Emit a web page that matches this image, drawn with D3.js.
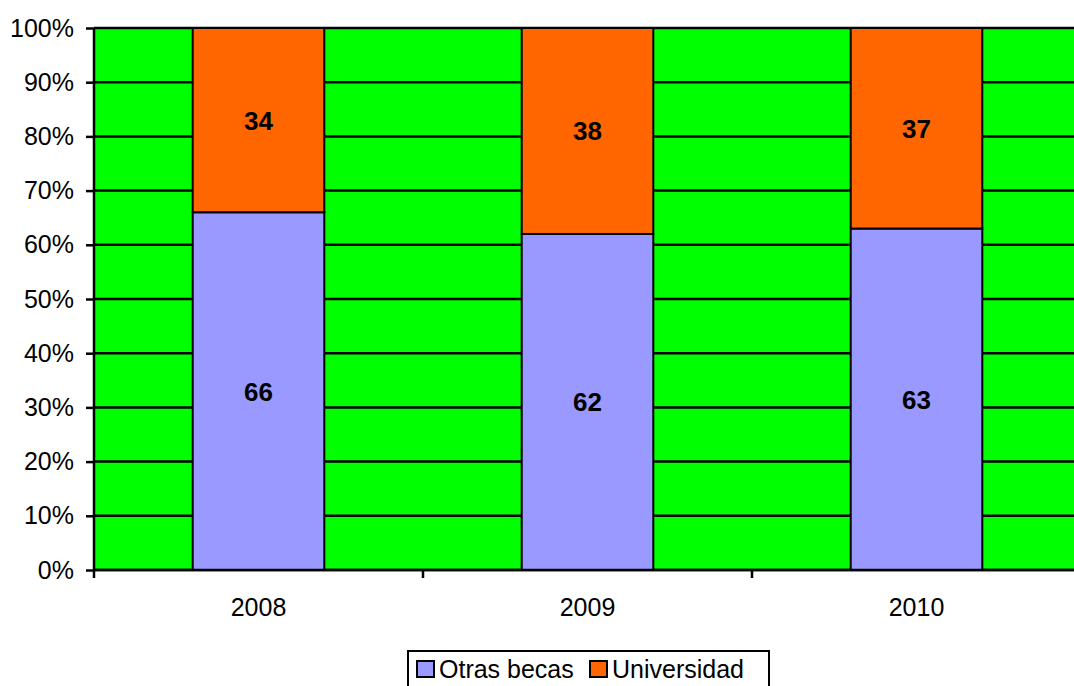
<!DOCTYPE html>
<meta charset="utf-8">
<style>
body { margin: 0; background: #fff; }
text { font-family: "Liberation Sans", Arial, sans-serif; }
</style>
<svg width="1074" height="686"></svg>
<script src="https://d3js.org/d3.v7.min.js"></script>
<script>

var years = ["2008", "2009", "2010"];
var otrasBecas = [66, 62, 63];
var universidad = [34, 38, 37];
var seriesNames = ["Otras becas", "Universidad"];
var seriesColors = ["#9999ff", "#ff6600"];
var yTicks = [0, 10, 20, 30, 40, 50, 60, 70, 80, 90, 100];

var svg = d3.select("svg");
var margin = {left: 94, top: 28, right: -7, bottom: 116};
var width = 1074 - margin.left - margin.right;
var height = 686 - margin.top - margin.bottom;

var g = svg.append("g").attr("transform", "translate(" + margin.left + "," + margin.top + ")");

var x = d3.scaleBand().domain(years).range([0, width]).paddingInner(0.6).paddingOuter(0.3);
var xCat = d3.scaleBand().domain(years).range([0, width]);
var y = d3.scaleLinear().domain([0, 100]).range([height, 0]);

// background
g.append("rect")
    .attr("width", width)
    .attr("height", height)
    .attr("fill", "#00ff00");

// gridlines
g.selectAll("line.grid")
  .data(yTicks)
  .enter().append("line")
    .attr("class", "grid")
    .attr("x1", 0)
    .attr("x2", width)
    .attr("y1", function(d) { return y(d); })
    .attr("y2", function(d) { return y(d); })
    .attr("stroke", "#000")
    .attr("stroke-width", 2.5);

var table = years.map(function(yr, i) {
  var total = otrasBecas[i] + universidad[i];
  return {year: yr, vals: [otrasBecas[i], universidad[i]], total: total};
});

var stacks = [];
table.forEach(function(d) {
  var acc = 0;
  d.vals.forEach(function(v, j) {
    var p0 = acc / d.total * 100;
    acc += v;
    var p1 = acc / d.total * 100;
    stacks.push({year: d.year, value: v, s: j, p0: p0, p1: p1});
  });
});

g.selectAll("rect.bar")
  .data(stacks)
  .enter().append("rect")
    .attr("class", "bar")
    .attr("x", function(d) { return x(d.year); })
    .attr("width", x.bandwidth())
    .attr("y", function(d) { return y(d.p1); })
    .attr("height", function(d) { return y(d.p0) - y(d.p1); })
    .attr("fill", function(d) { return seriesColors[d.s]; })
    .attr("stroke", "#000")
    .attr("stroke-width", 2);

g.selectAll("text.val")
  .data(stacks)
  .enter().append("text")
    .attr("class", "val")
    .attr("x", function(d) { return x(d.year) + x.bandwidth() / 2; })
    .attr("y", function(d) { return y((d.p0 + d.p1) / 2); })
    .attr("dy", "0.36em")
    .attr("text-anchor", "middle")
    .style("font-size", "26px")
    .style("font-weight", "bold")
    .text(function(d) { return d.value; });

// y axis
var yAxis = g.append("g")
    .call(d3.axisLeft(y).tickValues(yTicks).tickSize(8).tickPadding(12)
      .tickFormat(function(d) { return d + "%"; }));
yAxis.select(".domain").attr("stroke-width", 2.5).attr("d", "M0," + height + "V0");
yAxis.selectAll(".tick line").attr("stroke-width", 2.5);
yAxis.selectAll("text").style("font-size", "25px").attr("fill", "#000");

// x axis
var xAxis = g.append("g")
    .attr("transform", "translate(0," + height + ")")
    .call(d3.axisBottom(xCat).tickSize(0).tickPadding(28));
xAxis.select(".domain").remove();
xAxis.selectAll("text").style("font-size", "25px").attr("fill", "#000");
g.append("line")
    .attr("x1", 0).attr("x2", width)
    .attr("y1", height).attr("y2", height)
    .attr("stroke", "#000").attr("stroke-width", 2.5);
g.selectAll("line.xtick")
  .data(years)
  .enter().append("line")
    .attr("class", "xtick")
    .attr("x1", function(d) { return xCat(d); })
    .attr("x2", function(d) { return xCat(d); })
    .attr("y1", height)
    .attr("y2", height + 8)
    .attr("stroke", "#000")
    .attr("stroke-width", 2.5);

// legend
var legend = svg.append("g").attr("transform", "translate(408,651)");
legend.append("rect")
    .attr("width", 361)
    .attr("height", 50)
    .attr("fill", "#fff")
    .attr("stroke", "#000")
    .attr("stroke-width", 2);
var item = legend.selectAll("g.item")
  .data(seriesNames)
  .enter().append("g")
    .attr("class", "item")
    .attr("transform", function(d, i) { return "translate(" + (i === 0 ? 9 : 182) + ",0)"; });
item.append("rect")
    .attr("y", 10)
    .attr("width", 17)
    .attr("height", 16)
    .attr("fill", function(d, i) { return seriesColors[i]; })
    .attr("stroke", "#000")
    .attr("stroke-width", 2);
item.append("text")
    .attr("x", 22)
    .attr("y", 27)
    .style("font-size", "25px")
    .text(function(d) { return d; });

</script>
